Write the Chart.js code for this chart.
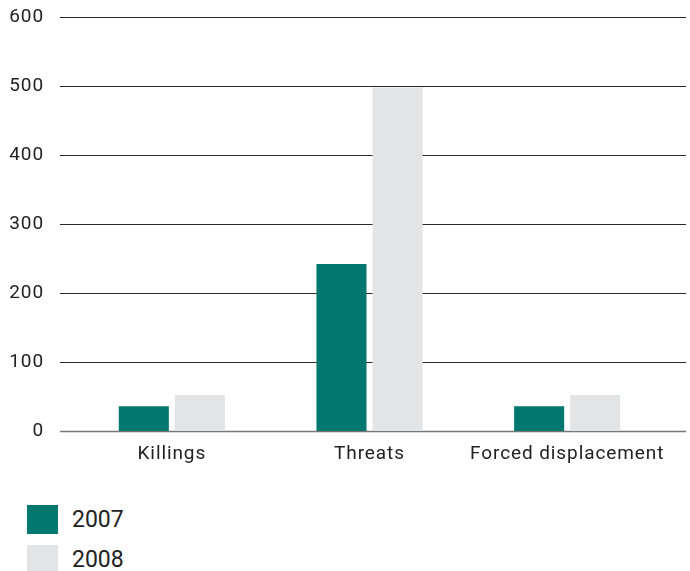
<!DOCTYPE html>
<html>
<head>
<meta charset="utf-8">
<script src="https://cdn.jsdelivr.net/npm/chart.js@4/dist/chart.umd.min.js"></script>
<style>
  html, body { margin: 0; padding: 0; background: #fff; overflow: hidden; }
  #wrap { position: relative; width: 690px; height: 480px; }
  #legend { margin: 19px 0 0 27px; font-family: Roboto, sans-serif; font-size: 23px; color: #222; }
  #legend .row { display: flex; align-items: center; height: 40px; }
  #legend .box { width: 31px; height: 29px; margin-right: 14px; }
</style>
</head>
<body>
<div id="wrap"><canvas id="chart"></canvas></div>
<div id="legend"></div>
<script>
// Valores (eixo 0–600)
const categories = ['Killings', 'Threats', 'Forced displacement'];
const years = ['2007', '2008'];
const values2007 = [36, 242, 36];
const values2008 = [52, 498, 52];
const yMax = 600;
const yStep = 100;

const colors = ['#00786f', '#e3e4e6'];
const ink = '#222';

Chart.defaults.font.family = "Roboto, sans-serif";
Chart.defaults.color = ink;

// espaçamento de letras parecido com a fonte original
const spacing = {
    id: 'letterSpacing',
    beforeUpdate(chart) { chart.ctx.letterSpacing = '0.9px'; },
    beforeDraw(chart) { chart.ctx.letterSpacing = '0.9px'; },
};

// linhas de grade horizontais que passam um pouco além da área do gráfico
const wideGrid = {
    id: 'wideGrid',
    beforeDatasetsDraw(chart) {
        const { ctx, chartArea, scales } = chart;
        ctx.save();
        scales.y.ticks.forEach((t) => {
            const y = Math.round(scales.y.getPixelForValue(t.value)) + 0.5;
            ctx.strokeStyle = t.value === 0 ? '#777' : '#2a2a2a';
            ctx.lineWidth = t.value === 0 ? 1.5 : 1;
            ctx.beginPath();
            ctx.moveTo(chartArea.left - 13, y);
            ctx.lineTo(chartArea.right + 20, y);
            ctx.stroke();
        });
        ctx.restore();
    },
};

const chart = new Chart(document.getElementById('chart'), {
    type: 'bar',
    data: {
        labels: categories,
        datasets: [
            { label: years[0], data: values2007, backgroundColor: colors[0] },
            { label: years[1], data: values2008, backgroundColor: colors[1] },
        ],
    },
    options: {
        responsive: true,
        maintainAspectRatio: false,
        animation: false,
        categoryPercentage: 0.567,
        barPercentage: 0.893,
        layout: { padding: { top: 17, right: 24, bottom: 9, left: 0 } },
        plugins: {
            legend: { display: false },
            tooltip: { enabled: false },
        },
        scales: {
            x: {
                grid: { display: false, drawTicks: false },
                border: { display: false },
                ticks: { font: { size: 19 }, padding: 12, maxRotation: 0 },
                afterFit: (s) => { s.height = 40; },
            },
            y: {
                min: 0,
                max: yMax,
                grid: { display: false, drawTicks: false },
                border: { display: false },
                ticks: { stepSize: yStep, font: { size: 19 }, padding: 29 },
                afterFit: (s) => {
                    s.width = 73;
                    s.paddingTop = 0;
                    s.paddingBottom = 0;
                },
            },
        },
    },
    plugins: [spacing, wideGrid],
});

// legenda em lista vertical, abaixo do gráfico
const legend = document.getElementById('legend');
chart.data.datasets.forEach((ds) => {
    const row = document.createElement('div');
    row.className = 'row';
    const box = document.createElement('span');
    box.className = 'box';
    box.style.background = ds.backgroundColor;
    const txt = document.createElement('span');
    txt.textContent = ds.label;
    row.append(box, txt);
    legend.appendChild(row);
});
</script>
</body>
</html>
